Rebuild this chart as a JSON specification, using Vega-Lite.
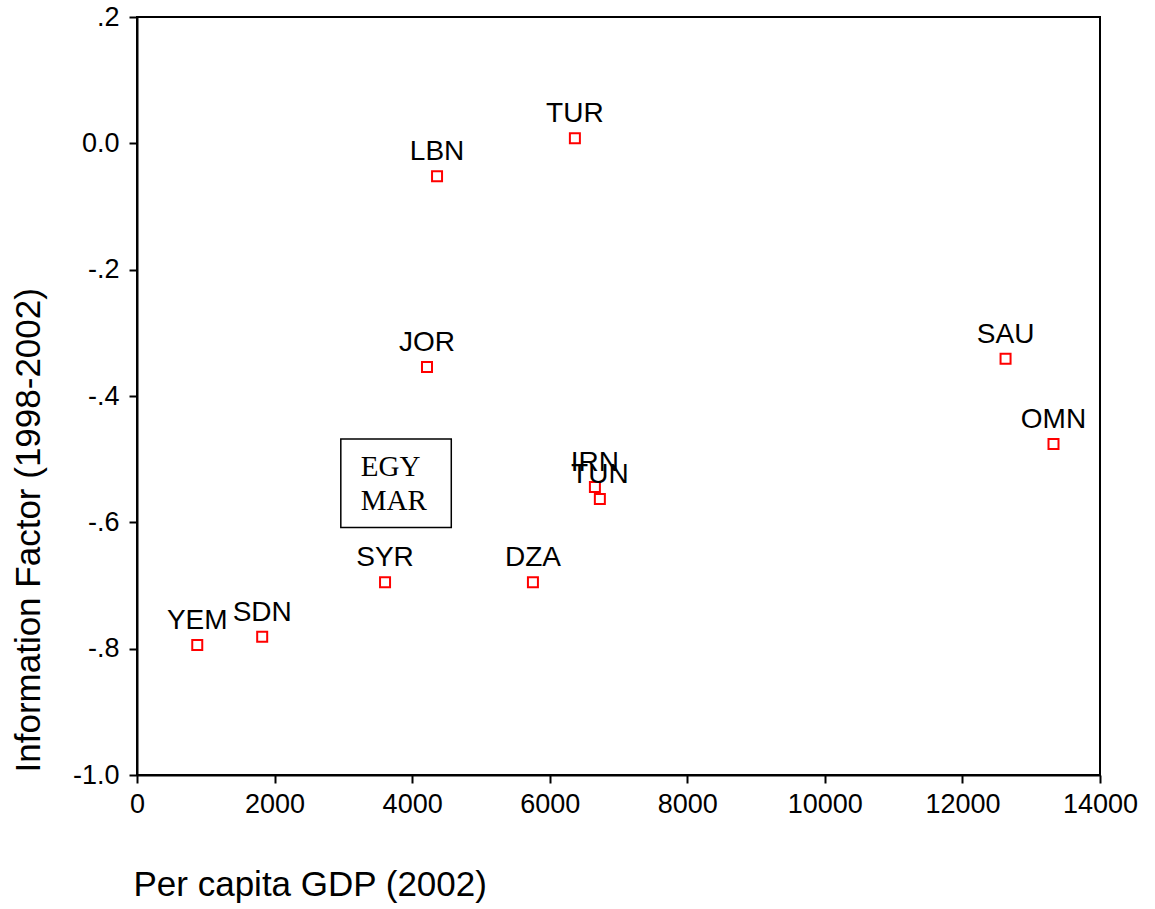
{
  "$schema": "https://vega.github.io/schema/vega-lite/v6.json",
  "autosize": "none",
  "padding": {"left": 137, "top": 17, "right": 55, "bottom": 134},
  "width": 963,
  "height": 758,
  "background": "white",
  "config": {
    "view": {"stroke": "black", "strokeWidth": 2},
    "font": "Liberation Sans",
    "axis": {
      "grid": false,
      "domainColor": "black",
      "domainWidth": 2,
      "tickColor": "black",
      "tickWidth": 2,
      "tickSize": 8,
      "labelFont": "Liberation Sans",
      "labelFontSize": 27,
      "labelColor": "black",
      "labelFlush": false,
      "titleFont": "Liberation Sans",
      "titleFontSize": 35,
      "titleFontWeight": "normal",
      "titleColor": "black"
    }
  },
  "datasets": {
    "pts": [
      {"code": "YEM", "gdp": 876, "info": -0.794},
      {"code": "SDN", "gdp": 1820, "info": -0.781},
      {"code": "SYR", "gdp": 3606, "info": -0.695},
      {"code": "DZA", "gdp": 5756, "info": -0.695},
      {"code": "IRN", "gdp": 6657, "info": -0.544},
      {"code": "TUN", "gdp": 6729, "info": -0.563},
      {"code": "JOR", "gdp": 4216, "info": -0.354},
      {"code": "LBN", "gdp": 4362, "info": -0.052},
      {"code": "TUR", "gdp": 6366, "info": 0.008},
      {"code": "SAU", "gdp": 12627, "info": -0.341},
      {"code": "OMN", "gdp": 13324, "info": -0.476}
    ],
    "box": [
      {"x1": 2963, "x2": 4569, "y1": -0.4682, "y2": -0.608}
    ],
    "boxtext": [
      {"label": "EGY", "gdp": 3253, "info": -0.5274},
      {"label": "MAR", "gdp": 3253, "info": -0.580}
    ]
  },
  "layer": [
    {
      "data": {"name": "box"},
      "mark": {"type": "rect", "fill": null, "stroke": "black", "strokeWidth": 1.5},
      "encoding": {
        "x": {"field": "x1", "type": "quantitative", "scale": {"domain": [0, 14000], "nice": false, "zero": false}},
        "x2": {"field": "x2"},
        "y": {"field": "y1", "type": "quantitative", "scale": {"domain": [-1, 0.2], "nice": false, "zero": false}},
        "y2": {"field": "y2"}
      }
    },
    {
      "data": {"name": "boxtext"},
      "mark": {"type": "text", "font": "Liberation Serif", "fontSize": 29, "align": "left", "baseline": "alphabetic", "color": "black"},
      "encoding": {
        "x": {"field": "gdp", "type": "quantitative"},
        "y": {"field": "info", "type": "quantitative"},
        "text": {"field": "label"}
      }
    },
    {
      "data": {"name": "pts"},
      "mark": {"type": "point", "shape": "square", "filled": false, "color": "#ff0000", "strokeWidth": 2, "size": 100, "opacity": 1},
      "encoding": {
        "x": {
          "field": "gdp", "type": "quantitative",
          "scale": {"domain": [0, 14000], "nice": false, "zero": false},
          "axis": {
            "values": [0, 2000, 4000, 6000, 8000, 10000, 12000, 14000],
            "format": "d",
            "labelPadding": 8,
            "title": "Per capita GDP (2002)",
            "titleAnchor": null,
            "titleAlign": "left",
            "titleBaseline": "alphabetic",
            "titleX": -4,
            "titleY": 120
          }
        },
        "y": {
          "field": "info", "type": "quantitative",
          "scale": {"domain": [-1, 0.2], "nice": false, "zero": false},
          "axis": {
            "values": [-1, -0.8, -0.6, -0.4, -0.2, 0, 0.2],
            "labelExpr": "datum.value == 0 ? '0.0' : datum.value <= -0.99 ? '-1.0' : replace(toString(round(datum.value*10)/10), '0.', '.')",
            "labelPadding": 10,
            "title": "Information Factor (1998-2002)",
            "titleAngle": -90,
            "titleAnchor": null,
            "titleAlign": "left",
            "titleBaseline": "alphabetic",
            "titleX": -98,
            "titleY": 755
          }
        }
      }
    },
    {
      "data": {"name": "pts"},
      "mark": {"type": "text", "fontSize": 28, "align": "center", "baseline": "alphabetic", "dy": -16, "color": "black"},
      "encoding": {
        "x": {"field": "gdp", "type": "quantitative"},
        "y": {"field": "info", "type": "quantitative"},
        "text": {"field": "code"}
      }
    }
  ]
}
